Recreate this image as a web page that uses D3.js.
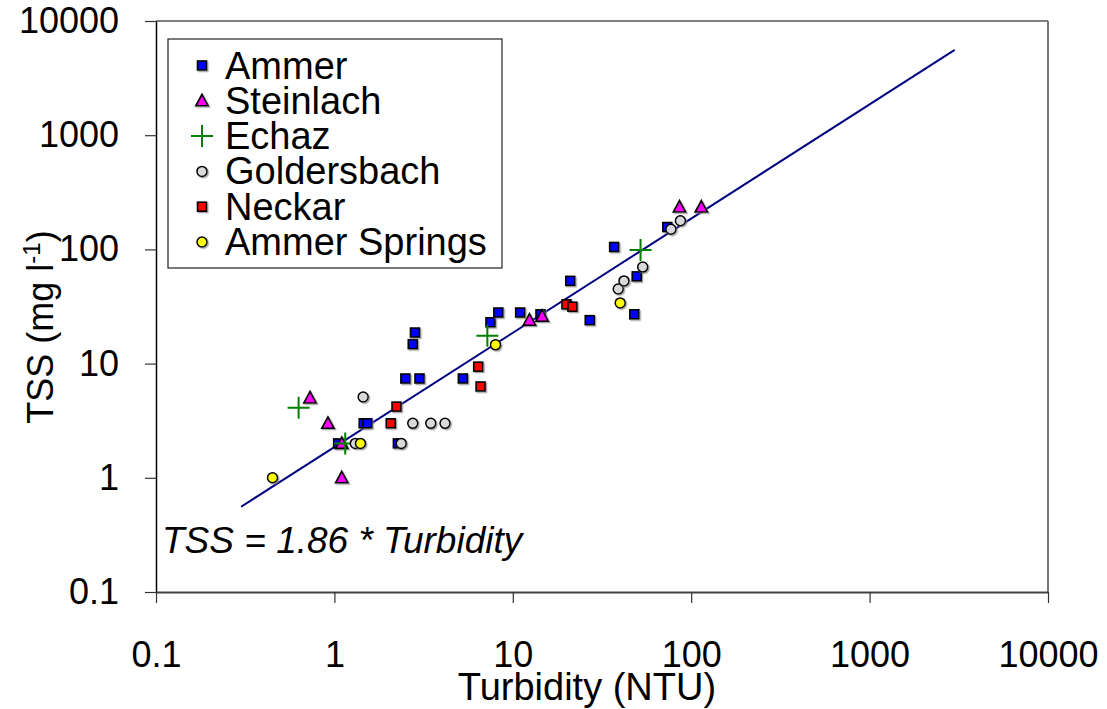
<!DOCTYPE html>
<html>
<head>
<meta charset="utf-8">
<script src="https://cdn.jsdelivr.net/npm/d3@7"></script>
<style>
  body { margin: 0; background: #fff; }
  svg { display: block; }
  text { font-family: "Liberation Sans", Arial, sans-serif; fill: #000; }
</style>
</head>
<body>
<svg id="chart" width="1107" height="709"></svg>
<script>
// Axis tick values (log10 decades)
const xTicks = [0.1, 1, 10, 100, 1000, 10000];
const yTicks = [0.1, 1, 10, 100, 1000, 10000];

// Samples per catchment: [turbidity (NTU), TSS (mg/l)]
const ammer = [[1.05, 2.0], [1.46, 3.0], [1.53, 3.0], [2.27, 2.0], [2.5, 7.4], [3.0, 7.4],
  [2.75, 14.8], [2.83, 18.7], [5.25, 7.4], [7.5, 23], [8.3, 28], [11, 28], [14.3, 27],
  [21, 53], [27, 24], [37, 105], [48, 27], [49.5, 58], [73.5, 157]];
const steinlach = [[0.73, 5.0], [0.92, 3.0], [1.1, 2.0], [1.1, 1.0], [12.4, 24], [14.6, 26],
  [86, 235], [114, 235]];
const echaz = [[0.63, 4.1], [1.15, 2.0], [7.2, 17.5], [52, 99]];
const goldersbach = [[1.31, 2.0], [1.45, 5.1], [2.37, 2.0], [2.75, 3.0], [3.47, 3.0], [4.17, 3.0],
  [39, 45], [42, 53], [53.5, 70], [77, 150], [87, 178]];
const neckar = [[2.07, 3.0], [2.23, 4.2], [6.4, 9.4], [6.6, 6.3], [20, 33], [21.6, 31.5]];
const ammerSprings = [[0.45, 1.0], [1.4, 2.0], [8.0, 14.6], [40, 34]];

const seriesNames = ["Ammer", "Steinlach", "Echaz", "Goldersbach", "Neckar", "Ammer Springs"];
const seriesData = [ammer, steinlach, echaz, goldersbach, neckar, ammerSprings];
const seriesShapes = ["square", "triangle", "cross", "circle", "square", "circle"];
const seriesColors = ["#0000ff", "#ff00ff", "#008000", "#d9d9d9", "#ff0000", "#ffff00"];

// Regression TSS = slope * turbidity
const fitSlope = 1.86;
const fitRange = [0.3, 3000];

const svg = d3.select("#chart");
const plotLeft = 156, plotRight = 1048, plotTop = 21, plotBottom = 592;

const x = d3.scaleLog().domain([0.1, 10000]).range([plotLeft, plotRight]);
const y = d3.scaleLog().domain([0.1, 10000]).range([plotBottom, plotTop]);

const defs = svg.append("defs");
defs.append("filter").attr("id", "shade")
  .attr("x", "-50%").attr("y", "-50%").attr("width", "200%").attr("height", "200%")
  .append("feDropShadow")
  .attr("dx", 1.3).attr("dy", 1.3).attr("stdDeviation", 0.6)
  .attr("flood-color", "#808080").attr("flood-opacity", 0.7);

// Plot frame (top and right)
svg.append("line").attr("x1", plotLeft).attr("x2", plotRight).attr("y1", plotTop).attr("y2", plotTop)
  .attr("stroke", "#000").attr("stroke-width", 1.2);
svg.append("line").attr("x1", plotRight).attr("x2", plotRight).attr("y1", plotTop).attr("y2", plotBottom)
  .attr("stroke", "#555").attr("stroke-width", 1.6);

// Axes
const fmt = d => String(d);
const yAxis = svg.append("g").attr("transform", `translate(${plotLeft},0)`)
  .call(d3.axisLeft(y).tickValues(yTicks).tickFormat(fmt).tickSize(11).tickSizeOuter(0).tickPadding(26));
const xAxis = svg.append("g").attr("transform", `translate(0,${plotBottom})`)
  .call(d3.axisBottom(x).tickValues(xTicks).tickFormat(fmt).tickSize(11).tickSizeOuter(0).tickPadding(38));

[yAxis, xAxis].forEach(g => {
  g.selectAll("text").attr("font-size", 36).attr("font-family", "Liberation Sans, Arial, sans-serif").attr("fill", "#000");
  g.selectAll(".tick line").attr("stroke", "#333").attr("stroke-width", 1.2);
});
yAxis.select(".domain").attr("stroke", "#000").attr("stroke-width", 1.5);
xAxis.select(".domain").attr("stroke", "#404040").attr("stroke-width", 2);

// Axis titles
const yTitle = svg.append("text")
  .attr("transform", "translate(53,327) rotate(-90)")
  .attr("text-anchor", "middle").attr("font-size", 36);
yTitle.append("tspan").text("TSS (mg l");
yTitle.append("tspan").attr("font-size", 24).attr("dy", -13).text("-1");
yTitle.append("tspan").attr("font-size", 36).attr("dy", 13).text(")");

svg.append("text").attr("x", 587).attr("y", 700).attr("text-anchor", "middle")
  .attr("font-size", 38).text("Turbidity (NTU)");

// Regression line
svg.append("path")
  .datum(fitRange.map(t => [t, fitSlope * t]))
  .attr("d", d3.line().x(d => x(d[0])).y(d => y(d[1])))
  .attr("fill", "none").attr("stroke", "#000080").attr("stroke-width", 2);

svg.append("text").attr("x", 162).attr("y", 553)
  .attr("font-size", 37).attr("font-style", "italic")
  .text(`TSS = ${fitSlope} * Turbidity`);

// Marker drawing
function drawMarker(g, shape, color) {
  if (shape === "square") {
    g.append("rect").attr("x", -4.5).attr("y", -4.5).attr("width", 9).attr("height", 9)
      .attr("fill", color).attr("stroke", "#000").attr("stroke-width", 1.6)
      .attr("filter", "url(#shade)");
  } else if (shape === "circle") {
    g.append("circle").attr("r", 5)
      .attr("fill", color).attr("stroke", "#000").attr("stroke-width", 1.5)
      .attr("filter", "url(#shade)");
  } else if (shape === "triangle") {
    g.append("path").attr("d", "M0,-6.5L6.2,5L-6.2,5Z")
      .attr("fill", color).attr("stroke", "#000").attr("stroke-width", 1.6)
      .attr("stroke-linejoin", "miter")
      .attr("filter", "url(#shade)");
  } else if (shape === "cross") {
    g.append("path").attr("d", "M-11,0H11M0,-11V11")
      .attr("fill", "none").attr("stroke", color).attr("stroke-width", 2);
  }
}

seriesData.forEach((data, i) => {
  const layer = svg.append("g").attr("class", "series");
  layer.selectAll("g").data(data).join("g")
    .attr("transform", d => `translate(${x(d[0])},${y(d[1])})`)
    .each(function () { drawMarker(d3.select(this), seriesShapes[i], seriesColors[i]); });
});

// Legend
const legend = svg.append("g");
legend.append("rect").attr("x", 168).attr("y", 39).attr("width", 334).attr("height", 229)
  .attr("fill", "#fff").attr("stroke", "#222").attr("stroke-width", 1.2);
seriesNames.forEach((name, i) => {
  const base = 78.5 + i * 35.3;
  const m = legend.append("g").attr("transform", `translate(202,${base - 13})`);
  drawMarker(m, seriesShapes[i], seriesColors[i]);
  legend.append("text").attr("x", 225).attr("y", base).attr("font-size", 38).text(name);
});
</script>
</body>
</html>
